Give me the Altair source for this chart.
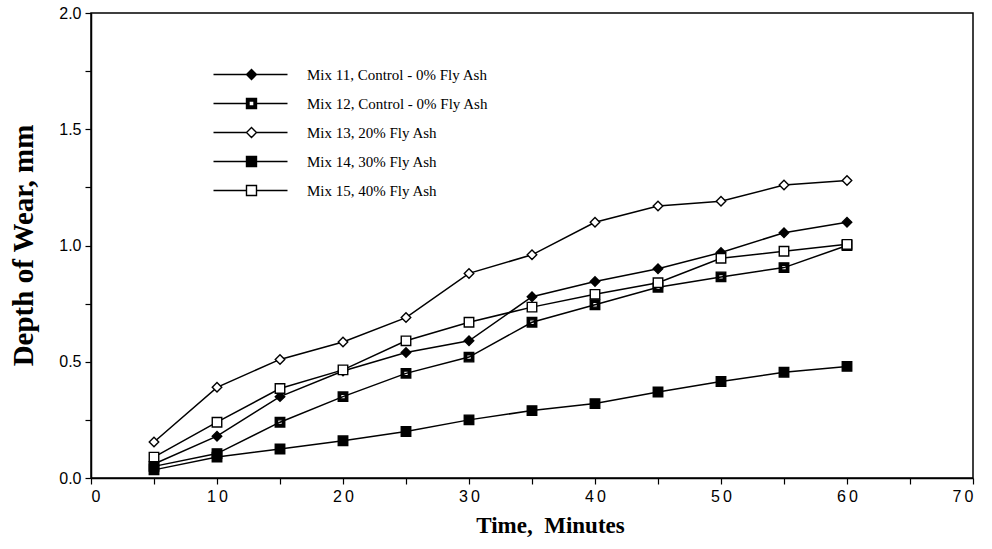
import altair as alt
import pandas as pd

# Abrasion test: depth of wear (mm) against time (minutes)
minutes = [5, 10, 15, 20, 25, 30, 35, 40, 45, 50, 55, 60]

mix11 = [0.06, 0.18, 0.35, 0.46, 0.54, 0.59, 0.78, 0.845, 0.90, 0.97, 1.055, 1.10]
mix12 = [0.05, 0.105, 0.24, 0.35, 0.45, 0.52, 0.67, 0.745, 0.82, 0.865, 0.905, 1.00]
mix13 = [0.155, 0.39, 0.51, 0.585, 0.69, 0.88, 0.96, 1.10, 1.17, 1.19, 1.26, 1.28]
mix14 = [0.035, 0.09, 0.125, 0.16, 0.20, 0.25, 0.29, 0.32, 0.37, 0.415, 0.455, 0.48]
mix15 = [0.09, 0.24, 0.385, 0.465, 0.59, 0.67, 0.735, 0.79, 0.84, 0.945, 0.975, 1.005]

series_names = [
    "Mix 11, Control - 0% Fly Ash",
    "Mix 12, Control - 0% Fly Ash",
    "Mix 13, 20% Fly Ash",
    "Mix 14, 30% Fly Ash",
    "Mix 15, 40% Fly Ash",
]
series_values = [mix11, mix12, mix13, mix14, mix15]
marker_fills = ["black", "black", "white", "black", "white"]
marker_strokes = ["black"] * 5

# marker outlines (unit coordinates, scaled by the symbol size)
DIAMOND = "M-1,0L0,-1L1,0L0,1Z"
SQUARE = "M-1,-1L1,-1L1,1L-1,1Z"
DOT_SQUARE = SQUARE + "M-0.5,-0.5L-0.5,0.5L0.5,0.5L0.5,-0.5Z"
marker_paths = [DIAMOND, DOT_SQUARE, DIAMOND, SQUARE, SQUARE]

# legend keys: a line running through the marker
KEY_LINE = "M-7.6,0L-1,0M1,0L7.2,0"
legend_paths = [KEY_LINE + p for p in marker_paths]

rows = []
for name, vals in zip(series_names, series_values):
    for t, v in zip(minutes, vals):
        rows.append({"Minutes": t, "Wear": v, "Mix": name})
df = pd.DataFrame(rows)

x_ticks = list(range(0, 75, 5))
y_ticks = [i * 0.25 for i in range(9)]

x_enc = alt.X(
    "Minutes:Q",
    scale=alt.Scale(domain=[0, 70], nice=False),
    axis=alt.Axis(
        values=x_ticks,
        labelExpr="datum.value % 10 === 0 ? join(split(datum.label, ''), '\u2009') : ''",
        title="Time,\u00a0\u00a0Minutes",
        titleX=459,
        titleY=47,
        titleAlign="center",
        titleBaseline="middle",
        titleFont="Liberation Serif",
        titleFontSize=23,
        titleFontWeight="bold",
        labelPadding=4,
    ),
)
y_enc = alt.Y(
    "Wear:Q",
    scale=alt.Scale(domain=[0, 2], nice=False),
    axis=alt.Axis(
        values=y_ticks,
        labelExpr="datum.value % 0.5 === 0 ? format(datum.value, '.1f') : ''",
        title="Depth of Wear, mm",
        titleX=-68,
        titleY=232,
        titleAngle=270,
        titleAlign="center",
        titleBaseline="middle",
        titleFont="Liberation Serif",
        titleFontSize=29,
        titleFontWeight="bold",
        labelPadding=4,
    ),
)

base = alt.Chart(df).encode(x=x_enc, y=y_enc)

lines = base.mark_line(color="black", strokeWidth=1.5).encode(detail="Mix:N")

points = base.mark_point(
    filled=True, size=90, stroke="black", strokeWidth=1.4, opacity=1
).encode(
    shape=alt.Shape("Mix:N", scale=alt.Scale(domain=series_names, range=marker_paths), legend=None),
    fill=alt.Fill("Mix:N", scale=alt.Scale(domain=series_names, range=marker_fills), legend=None),
)

key_legend = alt.Legend(
    orient="none",
    legendX=153,
    legendY=54,
    title=None,
    symbolSize=100,
    symbolStrokeWidth=1.4,
    symbolOpacity=1,
    labelOffset=48,
    labelLimit=0,
    rowPadding=12,
    labelFont="Liberation Serif",
    labelFontSize=15,
    labelColor="black",
    padding=0,
)

# keys only: the layer draws no marks, its scales carry the full domain
legend_layer = (
    base.mark_point(filled=True, size=100, strokeWidth=1.4, opacity=1)
    .encode(
        shape=alt.Shape("Mix:N", scale=alt.Scale(domain=series_names, range=legend_paths), legend=key_legend),
        fill=alt.Fill("Mix:N", scale=alt.Scale(domain=series_names, range=marker_fills), legend=key_legend),
        stroke=alt.Stroke("Mix:N", scale=alt.Scale(domain=series_names, range=marker_strokes), legend=key_legend),
    )
    .transform_filter("datum.Wear < 0")
)

chart = (
    alt.layer(lines, points, legend_layer)
    .resolve_scale(shape="independent", fill="independent", stroke="independent")
    .properties(
        width=882,
        height=465,
        autosize=alt.AutoSizeParams(type="none"),
        padding={"left": 91, "top": 13, "right": 19, "bottom": 71},
        background="white",
    )
    .configure_view(stroke="black", strokeWidth=1.5)
    .configure_axis(
        grid=False,
        domainColor="black",
        domainWidth=1.5,
        tickColor="black",
        tickWidth=1.2,
        tickSize=6,
        labelFont="Liberation Sans",
        labelFontSize=16,
        labelColor="black",
        titleColor="black",
    )
)

chart.save("out.html", embed_options={"renderer": "svg", "actions": False})
